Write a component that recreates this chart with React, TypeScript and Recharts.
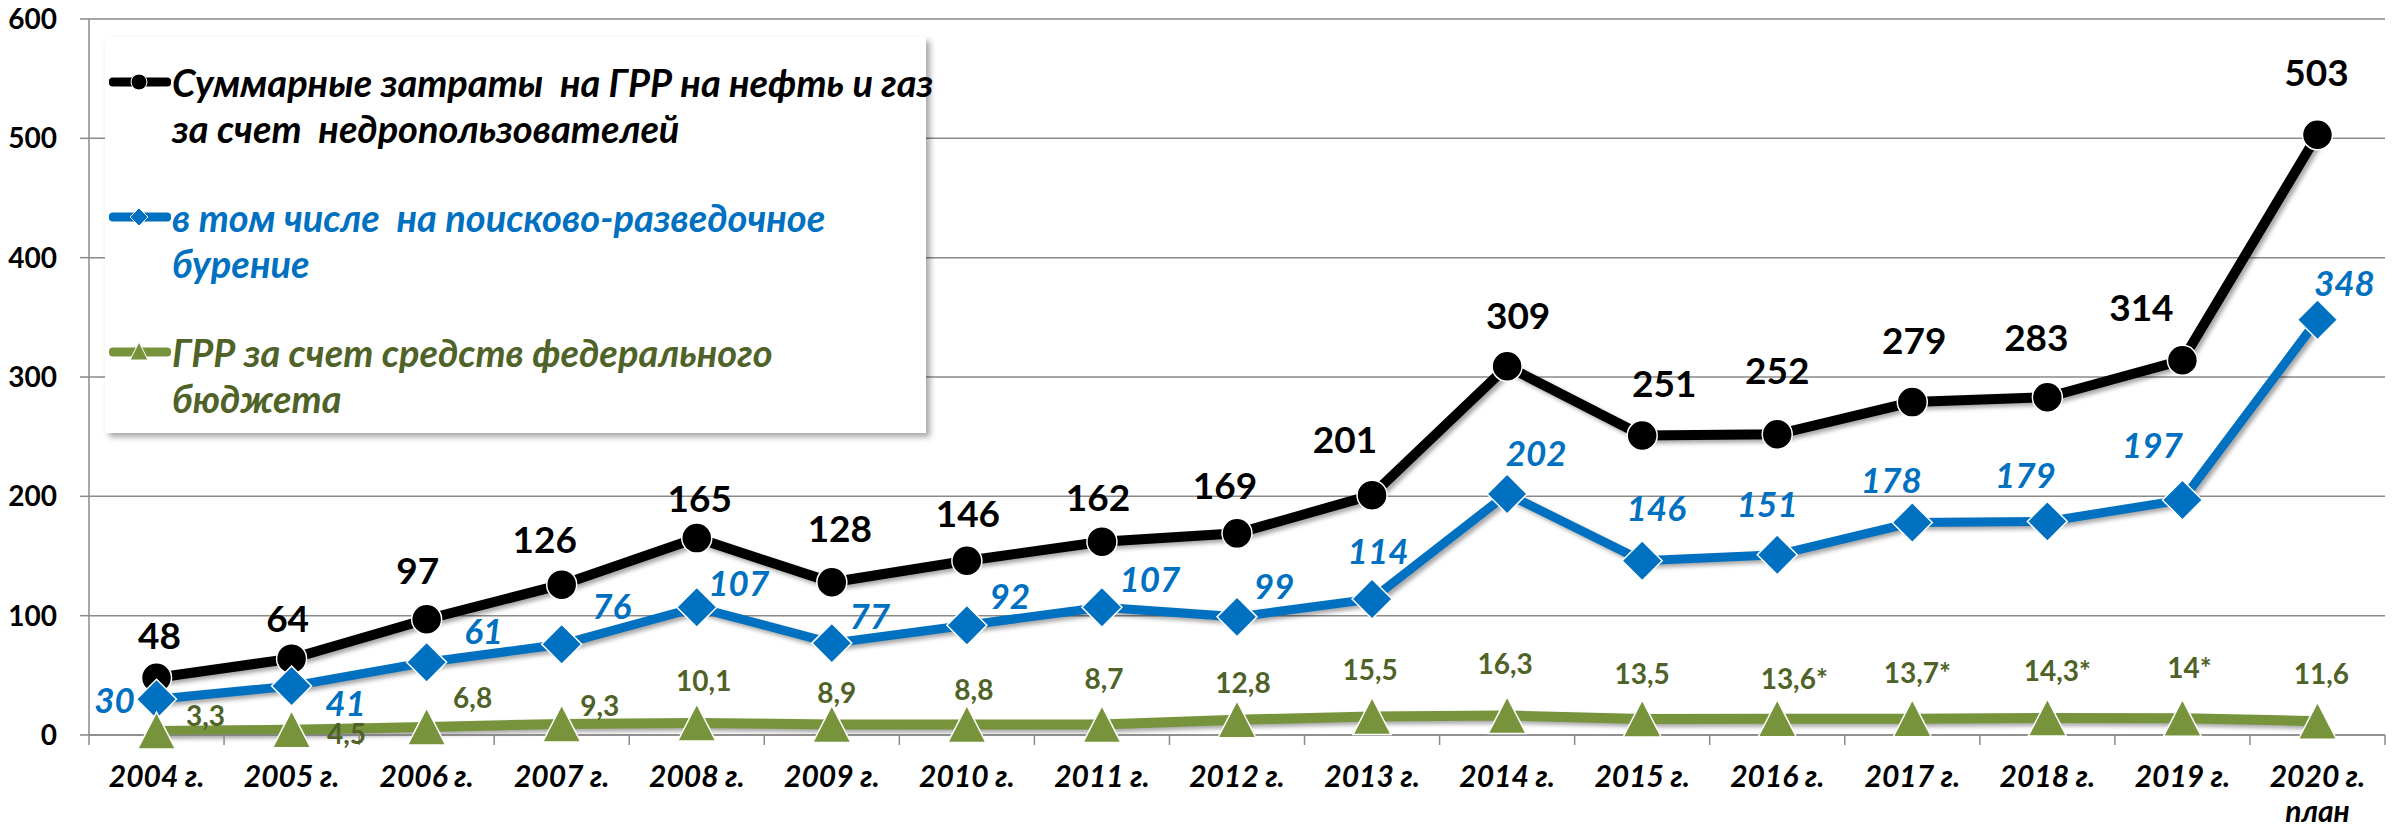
import React from 'react';
import { ComposedChart, Line, XAxis, YAxis, CartesianGrid, Legend, LabelList } from 'recharts';

const years = ['2004 г.', '2005 г.', '2006 г.', '2007 г.', '2008 г.', '2009 г.', '2010 г.', '2011 г.', '2012 г.', '2013 г.', '2014 г.', '2015 г.', '2016 г.', '2017 г.', '2018 г.', '2019 г.', '2020 г.'];
const yearNotes = ['', '', '', '', '', '', '', '', '', '', '', '', '', '', '', '', 'план'];
const totalCosts = [48, 64, 97, 126, 165, 128, 146, 162, 169, 201, 309, 251, 252, 279, 283, 314, 503];
const drillingCosts = [30, 41, 61, 76, 107, 77, 92, 107, 99, 114, 202, 146, 151, 178, 179, 197, 348];
const federalBudget = [3.3, 4.5, 6.8, 9.3, 10.1, 8.9, 8.8, 8.7, 12.8, 15.5, 16.3, 13.5, 13.6, 13.7, 14.3, 14, 11.6];
const federalLabels = ['3,3', '4,5', '6,8', '9,3', '10,1', '8,9', '8,8', '8,7', '12,8', '15,5', '16,3', '13,5', '13,6*', '13,7*', '14,3*', '14*', '11,6'];
const yTicks = [0, 100, 200, 300, 400, 500, 600];

const legendItems = [
  { key: 'total', lines: ['Суммарные затраты  на ГРР на нефть и газ', 'за счет  недропользователей'] },
  { key: 'drilling', lines: ['в том числе  на поисково-разведочное', 'бурение'] },
  { key: 'federal', lines: ['ГРР за счет средств федерального', 'бюджета'] },
];

// label nudges (px) relative to each point, like the hand-moved labels in the original
const totalLabelShift = [[3, -43], [-4, -41], [-9, -50], [-17, -46], [3, -41], [8, -55], [1, -48], [-4, -45], [-12, -49], [-27, -57], [11, -52], [22, -53], [0, -65], [2, -63], [-11, -61], [-41, -54], [-1, -63]];
const drillingLabelShift = [[-42, 0], [54, 16], [57, -32], [50, -39], [42, -25], [38, -28], [43, -30], [48, -29], [37, -32], [6, -49], [29, -42], [14, -54], [-10, -52], [-21, -44], [-22, -47], [-30, -56], [27, -38]];
const federalLabelShift = [[49, -16], [55, 3], [46, -30], [38, -19], [7, -43], [5, -32], [7, -35], [2, -47], [6, -38], [-2, -48], [-2, -53], [0, -46], [17, -41], [5, -47], [10, -48], [7, -51], [4, -48]];

const data = years.map((year, i) => ({
  year,
  total: totalCosts[i],
  drilling: drillingCosts[i],
  federal: federalBudget[i],
  federalLabel: federalLabels[i],
}));

const BLACK = '#000000';
const BLUE = '#0070C0';
const GREEN = '#77933C';
const GREEN_TEXT = '#4F6228';
const AXIS = '#8a8a8a';
const FONT = "Lato, 'Open Sans', 'Noto Sans', sans-serif";

const W = 2400;
const H = 828;
const PLOT_LEFT = 89;
const PLOT_RIGHT = 2385;
const BAND = (PLOT_RIGHT - PLOT_LEFT) / years.length;

const CircleDot = (p: any) => (
  <circle key={`c${p.index}`} cx={p.cx} cy={p.cy} r={15} fill={BLACK} stroke="#fff" strokeWidth={1.5} />
);
const DiamondDot = (p: any) => {
  const s = 20;
  return (
    <polygon key={`d${p.index}`} points={`${p.cx},${p.cy - s} ${p.cx + s},${p.cy} ${p.cx},${p.cy + s} ${p.cx - s},${p.cy}`} fill={BLUE} stroke="#fff" strokeWidth={1.5} />
  );
};
const TriangleDot = (p: any) => (
  <polygon key={`t${p.index}`} points={`${p.cx},${p.cy - 19} ${p.cx + 19},${p.cy + 18} ${p.cx - 19},${p.cy + 18}`} fill={GREEN} stroke="#fff" strokeWidth={1.5} />
);

const makeLabel = (shift: number[][], color: string, size: number, italic: boolean, texts?: string[]) => (p: any) => {
  const i = p.index;
  const [dx, dy] = shift[i];
  return (
    <text x={p.x + dx} y={p.y + dy} textAnchor="middle" dominantBaseline="central" fill={color}
      fontFamily={FONT} fontWeight={700} fontStyle={italic ? 'italic' : 'normal'} fontSize={size}>
      {texts ? texts[i] : p.value}
    </text>
  );
};

const YearTick = (p: any) => {
  const i = years.indexOf(p.payload.value);
  const x = p.x;
  const y = p.y;
  return (
    <g>
      <line x1={x - BAND / 2} x2={x - BAND / 2} y1={y} y2={y + 10} stroke={AXIS} strokeWidth={1.5} />
      {i === years.length - 1 && <line x1={x + BAND / 2} x2={x + BAND / 2} y1={y} y2={y + 10} stroke={AXIS} strokeWidth={1.5} />}
      <text x={x} y={y + 52} textAnchor="middle" fill="#000" fontFamily={FONT} fontWeight={700} fontStyle="italic" fontSize={30}>
        {p.payload.value}
      </text>
      {yearNotes[i] && (
        <text x={x} y={y + 87} textAnchor="middle" fill="#000" fontFamily={FONT} fontWeight={700} fontStyle="italic" fontSize={30}>
          {yearNotes[i]}
        </text>
      )}
    </g>
  );
};

const legendIcon = (key: string) => {
  const color = key === 'total' ? BLACK : key === 'drilling' ? BLUE : GREEN;
  let marker;
  if (key === 'total') marker = <circle cx={30} cy={12} r={8} fill={BLACK} stroke="#fff" strokeWidth={1} />;
  else if (key === 'drilling') marker = <polygon points="30,3 39,12 30,21 21,12" fill={BLUE} stroke="#fff" strokeWidth={1} />;
  else marker = <polygon points="30,2 39,20 21,20" fill={GREEN} stroke="#fff" strokeWidth={1} />;
  return (
    <svg width={62} height={24} style={{ position: 'absolute', left: 4, top: 11 }}>
      <line x1={4} x2={58} y1={12} y2={12} stroke={color} strokeWidth={9} strokeLinecap="round" />
      {marker}
    </svg>
  );
};

const renderLegend = () => (
  <div style={{ width: 821, height: 396, background: '#fff', boxShadow: '4px 4px 6px rgba(0,0,0,0.35)', position: 'relative' }}>
    {legendItems.map((item, k) => {
      const color = item.key === 'total' ? BLACK : item.key === 'drilling' ? BLUE : GREEN_TEXT;
      return (
        <div key={item.key} style={{ position: 'absolute', left: 0, top: 22 + k * 135, width: 821 }}>
          {legendIcon(item.key)}
          {item.lines.map((ln, j) => (
            <div key={j} style={{ position: 'absolute', left: 67, top: j * 46, whiteSpace: 'pre', color, fontFamily: FONT, fontWeight: 700, fontStyle: 'italic', fontSize: 38, lineHeight: '46px' }}>
              {ln}
            </div>
          ))}
        </div>
      );
    })}
  </div>
);

export default function App() {
  return (
    <div style={{ position: 'absolute', left: 0, top: 0, width: W, height: H, background: '#fff' }}>
      <style>{`.shadowed .recharts-line-curve, .shadowed .recharts-line-dots { filter: drop-shadow(3px 3px 2px rgba(0,0,0,0.35)); }`}</style>
      <ComposedChart width={W} height={H} data={data} margin={{ top: 19, right: W - PLOT_RIGHT, bottom: 0, left: 9 }}>
        <CartesianGrid vertical={false} stroke={AXIS} strokeWidth={1.5} />
        <XAxis dataKey="year" scale="band" height={93} tickLine={false} tickSize={0} tickMargin={0} axisLine={{ stroke: AXIS, strokeWidth: 1.5 }} tick={<YearTick />} interval={0} />
        <YAxis width={80} domain={[0, 600]} ticks={yTicks} interval={0} tickSize={9} tickMargin={23}
          axisLine={{ stroke: AXIS, strokeWidth: 1.5 }} tickLine={{ stroke: AXIS, strokeWidth: 1.5 }}
          tick={{ fill: '#000', fontFamily: FONT, fontWeight: 700, fontSize: 28 }} />
        <Legend layout="vertical" align="center" verticalAlign="middle" content={renderLegend}
          wrapperStyle={{ left: 105, top: 37, width: 821, height: 396 }} />
        <Line className="shadowed" dataKey="total" stroke={BLACK} strokeWidth={10} dot={CircleDot} activeDot={false} isAnimationActive={false}>
          <LabelList dataKey="total" content={makeLabel(totalLabelShift, BLACK, 37, false)} />
        </Line>
        <Line className="shadowed" dataKey="drilling" stroke={BLUE} strokeWidth={9} dot={DiamondDot} activeDot={false} isAnimationActive={false}>
          <LabelList dataKey="drilling" content={makeLabel(drillingLabelShift, BLUE, 35, true)} />
        </Line>
        <Line className="shadowed" dataKey="federal" stroke={GREEN} strokeWidth={10} dot={TriangleDot} activeDot={false} isAnimationActive={false}>
          <LabelList dataKey="federal" content={makeLabel(federalLabelShift, GREEN_TEXT, 28, false, federalLabels)} />
        </Line>
      </ComposedChart>
    </div>
  );
}
